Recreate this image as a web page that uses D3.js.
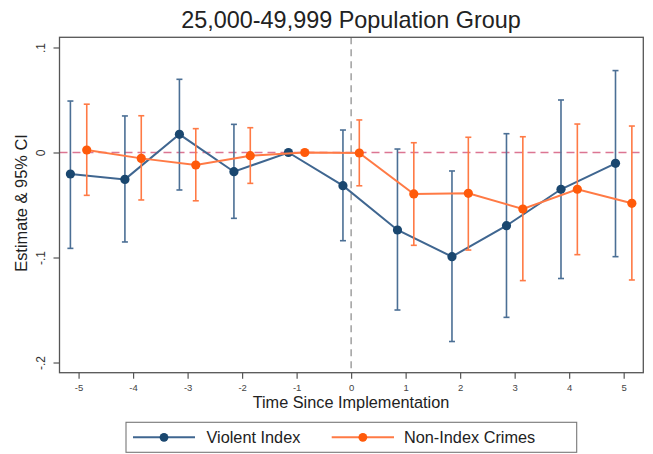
<!DOCTYPE html>
<html>
<head>
<meta charset="utf-8">
<script src="https://cdn.jsdelivr.net/npm/d3@7"></script>
<style>
  body { margin: 0; background: #fff; }
  svg { display: block; font-family: "Liberation Sans", Arial, Helvetica, sans-serif; }
</style>
</head>
<body>
<svg id="chart" width="653" height="454"></svg>
<script>
// Event-time periods relative to implementation
const periods = [-5, -4, -3, -2, -1, 0, 1, 2, 3, 4, 5];
const xTickLabels = ["-5", "-4", "-3", "-2", "-1", "0", "1", "2", "3", "4", "5"];

// Violent Index: point estimate with 95% CI (period -1 is the reference)
const violentEst = [-0.0205, -0.0256, 0.0173, -0.0183, 0, -0.0316, -0.0738, -0.0992, -0.0697, -0.035, -0.0103];
const violentLo  = [-0.0913, -0.0852, -0.0357, -0.0627, null, -0.084, -0.150, -0.180, -0.157, -0.120, -0.0992];
const violentHi  = [0.049, 0.0348, 0.0697, 0.0268, null, 0.0214, 0.0033, -0.0176, 0.0179, 0.050, 0.078];

// Non-Index Crimes: point estimate with 95% CI
const nonIndexEst = [0.0024, -0.0056, -0.0119, -0.003, 0, -0.0005, -0.0395, -0.0389, -0.0538, -0.035, -0.0484];
const nonIndexLo  = [-0.0408, -0.0452, -0.046, -0.0294, null, -0.0317, -0.0884, -0.0929, -0.122, -0.0973, -0.1214];
const nonIndexHi  = [0.046, 0.035, 0.0227, 0.0236, null, 0.031, 0.0093, 0.0145, 0.015, 0.0271, 0.0252];

const yTicks = [-0.2, -0.1, 0, 0.1];
const yTickLabels = ["-.2", "-.1", "0", ".1"];

const titleText = "25,000-49,999 Population Group";
const xTitle = "Time Since Implementation";
const yTitle = "Estimate & 95% CI";

const series = [
  { name: "Violent Index", est: violentEst, lo: violentLo, hi: violentHi, shift: -0.15,
    line: "#3f6690", marker: "#1a476f", bar: "#4b6f95" },
  { name: "Non-Index Crimes", est: nonIndexEst, lo: nonIndexLo, hi: nonIndexHi, shift: 0.15,
    line: "#ff7a45", marker: "#ff5a0a", bar: "#ff7a45" }
];

const svg = d3.select("#chart");
const box = { left: 59.5, right: 643.3, top: 37.3, bottom: 372.7 };

const x = d3.scaleLinear().domain([-5.35, 5.36]).range([box.left, box.right]);
const y = d3.scaleLinear().domain([-0.2097, 0.1097]).range([box.bottom, box.top]);

// Title
svg.append("text")
  .attr("x", 351).attr("y", 28)
  .attr("text-anchor", "middle")
  .attr("font-size", 23.4)
  .attr("fill", "#222")
  .text(titleText);

// Reference lines: zero effect and implementation date
svg.append("line")
  .attr("x1", box.left).attr("x2", box.right)
  .attr("y1", y(0)).attr("y2", y(0))
  .attr("stroke", "#dc7592").attr("stroke-width", 1.4)
  .attr("stroke-dasharray", "8,5");

svg.append("line")
  .attr("x1", x(0)).attr("x2", x(0))
  .attr("y1", box.top).attr("y2", box.bottom)
  .attr("stroke", "#999").attr("stroke-width", 1.4)
  .attr("stroke-dasharray", "7,5");

// Series: CI bars with caps, connecting line, markers
series.forEach(s => {
  const pts = periods.map((t, i) => ({ t: t + s.shift, est: s.est[i], lo: s.lo[i], hi: s.hi[i] }));
  const g = svg.append("g");
  const ci = pts.filter(d => d.lo !== null);

  g.selectAll("line.bar").data(ci).join("line")
    .attr("x1", d => x(d.t)).attr("x2", d => x(d.t))
    .attr("y1", d => y(d.lo)).attr("y2", d => y(d.hi))
    .attr("stroke", s.bar).attr("stroke-width", 1.6);

  ["lo", "hi"].forEach(k => {
    g.selectAll("line.cap-" + k).data(ci).join("line")
      .attr("x1", d => x(d.t) - 3).attr("x2", d => x(d.t) + 3)
      .attr("y1", d => y(d[k])).attr("y2", d => y(d[k]))
      .attr("stroke", s.bar).attr("stroke-width", 1.6);
  });

  g.append("path")
    .datum(pts)
    .attr("fill", "none")
    .attr("stroke", s.line).attr("stroke-width", 2)
    .attr("d", d3.line().x(d => x(d.t)).y(d => y(d.est)));

  g.selectAll("circle").data(pts).join("circle")
    .attr("cx", d => x(d.t)).attr("cy", d => y(d.est))
    .attr("r", 4.6).attr("fill", s.marker);
});

// Plot frame
svg.append("rect")
  .attr("x", box.left).attr("y", box.top)
  .attr("width", box.right - box.left).attr("height", box.bottom - box.top)
  .attr("fill", "none").attr("stroke", "#555").attr("stroke-width", 1.3);

// Y axis
const yAxis = svg.append("g")
  .attr("transform", `translate(${box.left},0)`)
  .call(d3.axisLeft(y).tickValues(yTicks).tickSize(6)
    .tickFormat((d, i) => yTickLabels[i]));
yAxis.select(".domain").remove();
yAxis.selectAll(".tick line").attr("stroke", "#555").attr("stroke-width", 1.2);
yAxis.selectAll(".tick text")
  .attr("font-size", 12).attr("fill", "#333")
  .attr("font-family", "Liberation Sans, Arial, sans-serif")
  .attr("text-anchor", "middle")
  .attr("x", null).attr("dy", null)
  .attr("transform", "translate(-14.5,0) rotate(-90)");

// X axis
const xAxis = svg.append("g")
  .attr("transform", `translate(0,${box.bottom})`)
  .call(d3.axisBottom(x).tickValues(periods).tickSize(6)
    .tickFormat((d, i) => xTickLabels[i]));
xAxis.select(".domain").remove();
xAxis.selectAll(".tick line").attr("stroke", "#555").attr("stroke-width", 1.2);
xAxis.selectAll(".tick text")
  .attr("font-size", 9.5).attr("fill", "#444")
  .attr("font-family", "Liberation Sans, Arial, sans-serif")
  .attr("y", 18.5).attr("dy", null);

// Axis titles
svg.append("text")
  .attr("x", 351).attr("y", 408)
  .attr("text-anchor", "middle")
  .attr("font-size", 16.3).attr("fill", "#222")
  .text(xTitle);

svg.append("text")
  .attr("transform", "translate(27,203) rotate(-90)")
  .attr("text-anchor", "middle")
  .attr("font-size", 16.4).attr("fill", "#222")
  .text(yTitle);

// Legend
const legend = svg.append("g");
legend.append("rect")
  .attr("x", 126).attr("y", 422.3).attr("width", 450.7).attr("height", 30)
  .attr("fill", "#fff").attr("stroke", "#777").attr("stroke-width", 1.1);

const legendItems = [
  { s: series[0], x0: 133, x1: 195, tx: 206.5 },
  { s: series[1], x0: 331.7, x1: 394, tx: 404 }
];
legendItems.forEach(it => {
  legend.append("line")
    .attr("x1", it.x0).attr("x2", it.x1).attr("y1", 437.3).attr("y2", 437.3)
    .attr("stroke", it.s.line).attr("stroke-width", 2);
  legend.append("circle")
    .attr("cx", (it.x0 + it.x1) / 2).attr("cy", 437.3).attr("r", 4.4)
    .attr("fill", it.s.marker);
  legend.append("text")
    .attr("x", it.tx).attr("y", 443)
    .attr("font-size", 16.3).attr("fill", "#222")
    .text(it.s.name);
});
</script>
</body>
</html>
